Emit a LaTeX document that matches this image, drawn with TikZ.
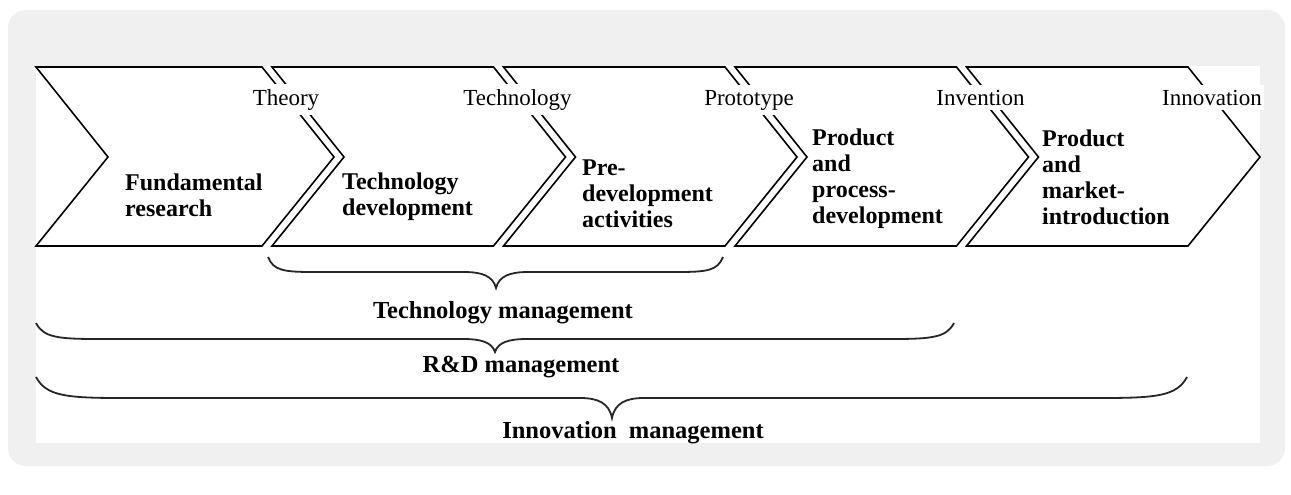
\documentclass[tikz,border=0pt]{standalone}
\usepackage{fontspec}
\setmainfont{Liberation Serif}
\usetikzlibrary{positioning}

\definecolor{framegray}{HTML}{F0F0F0}

% curly brace: left x, right x, end y, tip x, flat y, tip y, curl width
\newcommand{\curlybrace}[7]{%
  \draw[bracestroke] (#1,#3) .. controls ({#1+0.12*#7},{#5-0.1*(#5-#3)}) and ({#1+0.35*#7},#5) .. ({#1+#7},#5)
    -- ({#4-32},#5) .. controls ({#4-14},#5) and ({#4-3},{#5+0.25*(#6-#5)}) .. (#4,#6)
    .. controls ({#4+3},{#5+0.25*(#6-#5)}) and ({#4+14},#5) .. ({#4+32},#5)
    -- ({#2-#7},#5) .. controls ({#2-0.35*#7},#5) and ({#2-0.12*#7},{#5-0.1*(#5-#3)}) .. (#2,#3);}

\begin{document}
\begin{tikzpicture}[
        x=1pt, y=-1pt,
        stage/.style={draw=black, line width=1.6pt},
        milestone/.style={fill=white, inner xsep=2pt, inner ysep=5pt, anchor=base,
                          font=\fontsize{23}{26}\selectfont},
        phase/.style={align=left, inner sep=0pt, anchor=base west,
                      font=\bfseries\fontsize{24}{26}\selectfont},
        mgmt/.style={anchor=base, font=\bfseries\fontsize{24.5}{28}\selectfont},
        bracestroke/.style={draw=black!85, line width=1.8pt}
      ]
      % frame
      \fill[white] (0,0) rectangle (1291,495);
      \fill[framegray, rounded corners=18pt] (8,10) rectangle (1285,466);
      \fill[white] (36,66) rectangle (1260,443);
      \useasboundingbox (0,0) rectangle (1291,495);

      % chevrons
      \foreach \i in {0,...,4} {
        \pgfmathsetmacro{\R}{262+231.5*\i}
        \pgfmathsetmacro{\L}{ifthenelse(\i==0,36,\R-221.5)}
        \draw[stage] (\L,67) -- (\R,67) -- (\R+72,157) -- (\R,246)
          -- (\L,246) -- (\L+72,157) -- cycle;
      }
      \foreach \i/\txt in {0/Theory,1/Technology,2/Prototype,3/Invention,4/Innovation}
        \node[milestone] (ms\i) at ({262+231.5*\i+24},105) {\txt};

      % phases (anchored at the last baseline)
      \node[phase] (fundres) at (125,216) {Fundamental\\research};
      \node[phase] (techdev) at (342,215) {Technology\\development};
      \node[phase] (predev) at (582,227) {Pre-\\development\\activities};
      \node[phase] (procdev) at (812,223) {Product\\and\\process-\\development};
      \node[phase] (marketintro) at (1042,224) {Product\\and\\market-\\introduction};

      % braces
      \curlybrace{268}{723}{257}{496}{272}{288}{45}
      \curlybrace{36}{954}{323}{495}{339}{352}{62}
      \curlybrace{36}{1187}{377}{612}{398}{418}{85}
      \node[mgmt] (techmgmt) at (503,318) {Technology management};
      \node[mgmt] (rdmgmt) at (521,372) {R\&D management};
      \node[mgmt] (innomgmt) at (633,438) {Innovation\ \ management};
\end{tikzpicture}
\end{document}
